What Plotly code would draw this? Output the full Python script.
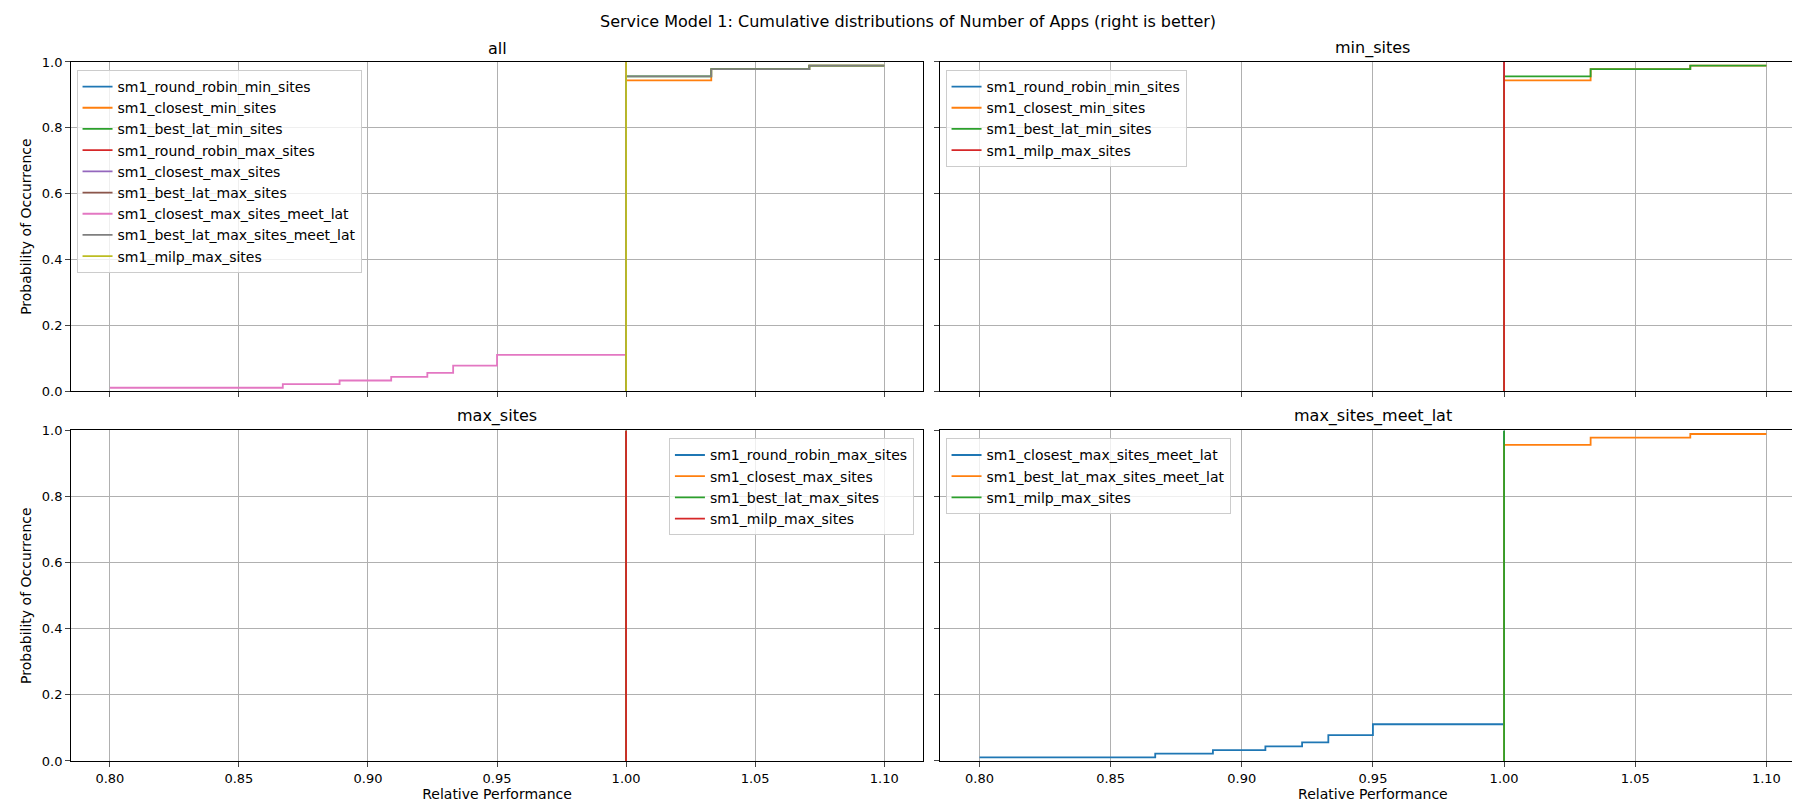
import plotly.graph_objects as go

C = ['#1f77b4', '#ff7f0e', '#2ca02c', '#d62728', '#9467bd', '#8c564b', '#e377c2', '#7f7f7f', '#bcbd22']

# step data (x, y) for each series
x_vert = [1.0, 1.0]
y_vert = [0.0, 1.0]
x_closest_min = [1.0, 1.0, 1.033, 1.071, 1.1]
y_closest_min = [0.0, 0.944, 0.978, 0.989, 0.989]
x_best_lat = [1.0, 1.0, 1.033, 1.071, 1.1]
y_best_lat = [0.0, 0.956, 0.978, 0.989, 0.989]
x_meet_lat = [0.8, 0.867, 0.889, 0.909, 0.923, 0.933, 0.95, 1.0, 1.0]
y_meet_lat = [0.011, 0.022, 0.033, 0.044, 0.056, 0.078, 0.111, 0.111, 1.0]

series = {
    'sm1_round_robin_min_sites': (x_vert, y_vert),
    'sm1_closest_min_sites': (x_closest_min, y_closest_min),
    'sm1_best_lat_min_sites': (x_best_lat, y_best_lat),
    'sm1_round_robin_max_sites': (x_vert, y_vert),
    'sm1_closest_max_sites': (x_vert, y_vert),
    'sm1_best_lat_max_sites': (x_vert, y_vert),
    'sm1_closest_max_sites_meet_lat': (x_meet_lat, y_meet_lat),
    'sm1_best_lat_max_sites_meet_lat': (x_best_lat, y_best_lat),
    'sm1_milp_max_sites': (x_vert, y_vert),
}
panels = [
    ('all', list(series.keys())),
    ('min_sites', ['sm1_round_robin_min_sites', 'sm1_closest_min_sites', 'sm1_best_lat_min_sites', 'sm1_milp_max_sites']),
    ('max_sites', ['sm1_round_robin_max_sites', 'sm1_closest_max_sites', 'sm1_best_lat_max_sites', 'sm1_milp_max_sites']),
    ('max_sites_meet_lat', ['sm1_closest_max_sites_meet_lat', 'sm1_best_lat_max_sites_meet_lat', 'sm1_milp_max_sites']),
]

W, H = 1568.0, 697.0
xdom = [(55 / W, 797 / W), (812 / W, 1566 / W)]
ydom = [(1 - 334 / H, 1 - 47 / H), (1 - 656 / H, 1 - 368 / H)]

fig = go.Figure()
annotations = []
for i, (title, names) in enumerate(panels):
    r, c = divmod(i, 2)
    n = i + 1
    sfx = '' if n == 1 else str(n)
    for j, name in enumerate(names):
        x, y = series[name]
        fig.add_trace(go.Scatter(x=x, y=y, mode='lines', line=dict(color=C[j], width=1.8, shape='hv'),
                                 name=name, xaxis='x' + sfx, yaxis='y' + sfx, legend='legend' + sfx))
    fig.layout['xaxis' + sfx] = dict(domain=xdom[c], anchor='y' + sfx, range=[0.785, 1.115], automargin=False,
                                     tickvals=[0.8, 0.85, 0.9, 0.95, 1.0, 1.05, 1.1], tickformat='.2f',
                                     showticklabels=(r == 1), ticks='outside', ticklen=5,
                                     showgrid=True, gridcolor='#b0b0b0', showline=True, linecolor='black',
                                     mirror=True, zeroline=False,
                                     title=dict(text='Relative Performance' if r == 1 else '', standoff=4,
                                                font=dict(size=14)))
    fig.layout['yaxis' + sfx] = dict(domain=ydom[r], anchor='x' + sfx, range=[0, 1], dtick=0.2, tickformat='.1f',
                                     showticklabels=(c == 0), ticks='outside', ticklen=5, automargin=False,
                                     showgrid=True, gridcolor='#b0b0b0', showline=True, linecolor='black',
                                     mirror=True, zeroline=False,
                                     title=dict(text='Probability of Occurrence' if c == 0 else '', standoff=6,
                                                font=dict(size=14)))
    annotations.append(dict(text=title, x=sum(xdom[c]) / 2, y=ydom[r][1], xref='paper', yref='paper',
                            xanchor='center', yanchor='bottom', showarrow=False, font=dict(size=16), yshift=2))
    if i == 2:
        lx, ly, xa = xdom[c][1] - 0.005, ydom[r][1] - 0.01, 'right'
    else:
        lx, ly, xa = xdom[c][0] + 0.003, ydom[r][1] - 0.01, 'left'
    fig.layout['legend' + sfx] = dict(x=lx, y=ly, xanchor=xa, yanchor='top', bgcolor='rgba(255,255,255,0.8)',
                                      bordercolor='#cccccc', borderwidth=1, font=dict(size=14),
                                      tracegroupgap=0, itemwidth=30)

annotations.append(dict(text='Service Model 1: Cumulative distributions of Number of Apps (right is better)',
                        x=0.5, y=1 - 2 / H, xref='paper', yref='paper', xanchor='center', yanchor='top',
                        showarrow=False, font=dict(size=16)))
fig.update_layout(width=1800, height=800, margin=dict(l=0, r=0, t=0, b=0), plot_bgcolor='white',
                  paper_bgcolor='white', font=dict(family='DejaVu Sans', size=13, color='black'),
                  annotations=annotations)
fig.write_html("out.html")
